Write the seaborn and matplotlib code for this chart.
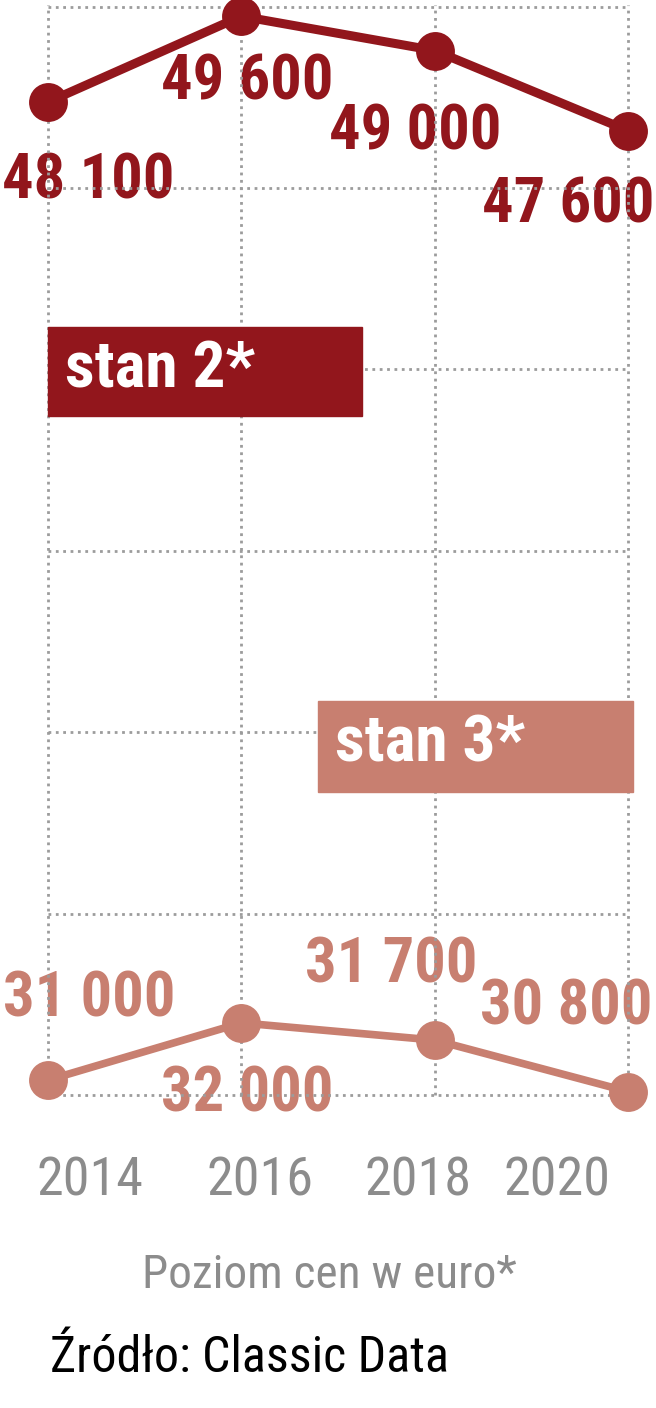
import matplotlib
matplotlib.use("Agg")
import matplotlib.pyplot as plt
import matplotlib.font_manager as fm
from matplotlib.patches import Rectangle
from matplotlib.transforms import offset_copy
import numpy as np
import pandas as pd
import seaborn as sns

# dane
YEARS = [2014, 2016, 2018, 2020]
STAN2 = [48100, 49600, 49000, 47600]
STAN3 = [31000, 32000, 31700, 30800]
SERIES = ["stan 2*", "stan 3*"]
YEAR_LABELS = ["2014", "2016", "2018", "2020"]
CAPTION = "Poziom cen w euro*"
SOURCE = "Źródło: Classic Data"

DARK = "#92161c"
LIGHT = "#c87f70"
GRID = "#9c9c9c"
GREY_TXT = "#8c8c8c"

W, H, DPI = 656, 1408, 100

# przesunięcia etykiet wartości (px: w prawo, w dół)
OFF2 = [(40, 79), (6, 66), (-19, 82), (-60, 75)]
OFF3 = [(41, -81), (6, 72), (-43, -75), (-62, -84)]

names = {f.name for f in fm.fontManager.ttflist}
narrow = next((c for c in ["Liberation Sans Narrow", "Roboto Condensed",
                           "Open Sans Condensed", "Liberation Sans"] if c in names),
              "DejaVu Sans")

sns.set_theme(style="white")
plt.rcParams["font.family"] = [narrow, "DejaVu Sans"]

df = pd.DataFrame({
    "rok": YEARS * 2,
    "cena": STAN2 + STAN3,
    "stan": [SERIES[0]] * len(YEARS) + [SERIES[1]] * len(YEARS),
})

fig = plt.figure(figsize=(W / DPI, H / DPI), dpi=DPI)
ax = fig.add_axes([0, 0, 1, 1])
ax.set_axis_off()

# skala w pikselach
PX_YEAR = 580 / 6
PX_EUR = 0.0572
ax.set_xlim(2014 - 48 / PX_YEAR, 2020 + (W - 628) / PX_YEAR)
ax.set_ylim(48100 - (H - 102) / PX_EUR, 48100 + 102 / PX_EUR)


def py(px):
    return 48100 - (px - 102) / PX_EUR


# siatka kropkowana (nad etykietami, pod liniami)
for row in [7, 188, 369, 551, 732, 914, 1095]:
    ax.hlines(py(row), YEARS[0], YEARS[-1], colors=GRID, linestyles=":", lw=2, zorder=2)
ax.vlines(YEARS, py(1095), py(5), colors=GRID, linestyles=":", lw=2, zorder=2)

for sub, col, lw in [(df[df.stan == SERIES[0]], DARK, 6.5), (df[df.stan == SERIES[1]], LIGHT, 5.5)]:
    sns.lineplot(data=sub, x="rok", y="cena", color=col, linewidth=lw, marker="o",
                 markersize=28, markeredgewidth=0, ax=ax, legend=False, zorder=3, clip_on=False)

for vals, offs, col in [(STAN2, OFF2, DARK), (STAN3, OFF3, LIGHT)]:
    for x, v, (dx, dy) in zip(YEARS, vals, offs):
        tr = offset_copy(ax.transData, fig=fig, x=dx, y=-dy, units="dots")
        ax.text(x, v, f"{v:,}".replace(",", " "), transform=tr, ha="center", va="center",
                fontsize=45, fontweight="bold", color=col, zorder=1)

# etykiety serii
for (x0, y0, x1, y1), col, lab in [((48, 327, 362, 416), DARK, SERIES[0]),
                                   ((318, 701, 633, 792), LIGHT, SERIES[1])]:
    fig.add_artist(Rectangle((x0 / W, 1 - y1 / H), (x1 - x0) / W, (y1 - y0) / H,
                             transform=fig.transFigure, color=col, zorder=5))
    fig.text((x0 + 17) / W, 1 - (y0 + y1 - 4) / 2 / H, lab, color="white", fontsize=47,
             fontweight="bold", ha="left", va="center", zorder=6)

for lx, lab in zip([90, 260, 418, 557], YEAR_LABELS):
    fig.text(lx / W, 1 - 1181 / H, lab, ha="center", va="center", fontsize=39, color=GREY_TXT)

fig.text(329 / W, 1 - 1275 / H, CAPTION, ha="center", va="center", fontsize=34, color=GREY_TXT)
fig.text(50 / W, 1 - 1358 / H, SOURCE, ha="left", va="center", fontsize=36, color="black")

fig.savefig("out.png", dpi=DPI)
